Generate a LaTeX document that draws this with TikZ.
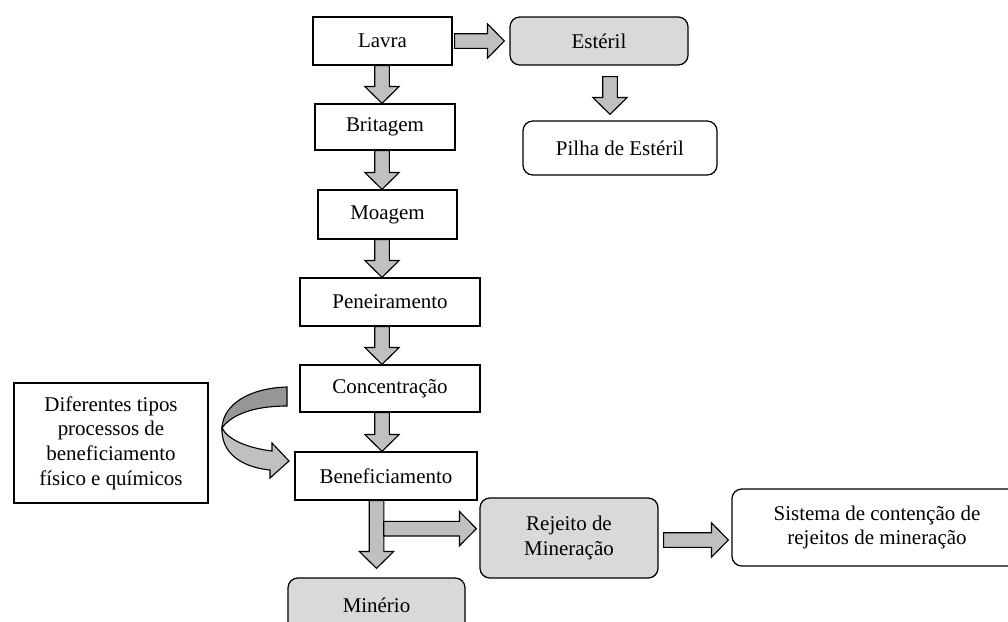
\documentclass[tikz,border=0pt]{standalone}
\usepackage{fontspec}
\setmainfont{Liberation Serif}
\usetikzlibrary{calc}

\definecolor{cinzaSeta}{HTML}{C0C0C0}
\definecolor{cinzaCaixa}{HTML}{D9D9D9}
\definecolor{cinzaEscuro}{HTML}{969696}

\tikzset{
  etapa/.style={draw, line width=0.9pt, inner sep=2pt, align=center,
    font=\fontsize{14.9}{17.5}\selectfont},
  residuo/.style={etapa, rounded corners=7pt},
  seta/.style={fill=cinzaSeta, draw=black, line width=0.8pt, line join=miter}
}

% seta em bloco de #1 ate a ponta #2
\newcommand{\setaBloco}[2]{%
  \coordinate (sb-h) at ($(#2)!12pt!(#1)$);
  \filldraw[seta] ($(#1)!5.2pt!90:(#2)$) -- ($(sb-h)!5.2pt!90:(#2)$)
    -- ($(sb-h)!12.2pt!90:(#2)$) -- (#2) -- ($(sb-h)!12.2pt!-90:(#2)$)
    -- ($(sb-h)!5.2pt!-90:(#2)$) -- ($(#1)!5.2pt!-90:(#2)$) -- cycle;}

\begin{document}
\begin{tikzpicture}[x=0.025cm, y=-0.025cm]
			\clip (0,0) rectangle (1008,621);
			% etapas do processo
			\node[etapa, minimum width=3.475cm, minimum height=1.2cm] (lavra) at (382.5,41) {Lavra};
			\node[etapa, minimum width=3.5cm, minimum height=1.15cm] (britagem) at (385,127) {Britagem};
			\node[etapa, minimum width=3.475cm, minimum height=1.225cm] (moagem) at (387.5,214.5) {Moagem};
			\node[etapa, minimum width=4.5cm, minimum height=1.2cm] (peneira) at (390,302) {Peneiramento};
			\node[etapa, minimum width=4.5cm, minimum height=1.175cm] (conc) at (390,388.5) {Concentração};
			\node[etapa, minimum width=4.55cm, minimum height=1.2cm] (benef) at (386,476) {Beneficiamento};
			\node[etapa, minimum width=4.85cm, minimum height=3cm] (tipos) at (111,443)
				{Diferentes tipos\\processos de\\beneficiamento\\físico e químicos};
			% residuos e produto
			\node[residuo, fill=cinzaCaixa, minimum width=4.45cm, minimum height=1.2cm] (esteril) at (599,41) {Estéril};
			\node[residuo, minimum width=4.85cm, minimum height=1.35cm] (pilha) at (620,148) {Pilha de Estéril};
			\node[residuo, fill=cinzaCaixa, minimum width=4.45cm, minimum height=2cm] (rejeito) at (569,538) {Rejeito de\\Mineração};
			\node[residuo, minimum width=7.25cm, minimum height=1.925cm] (sistema) at (877,527.5)
				{Sistema de contenção de\\rejeitos de mineração};
			\node[residuo, fill=cinzaCaixa, minimum width=4.425cm, minimum height=1.35cm] (minerio) at (376.5,605) {Minério};

			% setas da coluna principal
			\coordinate (col) at (382,0);
			\setaBloco{col |- lavra.south}{col |- britagem.north}
			\setaBloco{col |- britagem.south}{col |- moagem.north}
			\setaBloco{col |- moagem.south}{col |- peneira.north}
			\setaBloco{col |- peneira.south}{col |- conc.north}
			\setaBloco{col |- conc.south}{col |- benef.north}
			\setaBloco{minerio.north |- benef.south}{$(minerio.north)+(0,-9)$}
			\coordinate (desvio) at ($(minerio.north |- benef.south)+(7.3,28)$);
			\setaBloco{desvio}{$(desvio -| rejeito.west)+(-3,0)$}
			% setas laterais
			\setaBloco{$(lavra.east)+(2,0)$}{$(esteril.west)+(-5,0)$}
			\coordinate (est) at ($(esteril.south)+(11,11)$);
			\setaBloco{est}{$(est |- pilha.north)+(0,-6)$}
			\setaBloco{$(rejeito.east)+(5,2)$}{$(sistema.west |- rejeito.east)+(-3,2)$}

			% seta curva dos processos
			\filldraw[fill=cinzaEscuro, line width=0.8pt] (287,387) .. controls (250,388) and (223,404) .. (222,428)
				.. controls (232,414) and (255,406) .. (287,406) -- cycle;
			\filldraw[fill=cinzaSeta, line width=0.8pt, line join=miter] (222,428) .. controls (228,440) and (248,448) .. (272,451)
				-- (272,443) -- (289,461) -- (270,478) -- (270,470) .. controls (240,467) and (221,452) .. (222,428) -- cycle;
\end{tikzpicture}
\end{document}
